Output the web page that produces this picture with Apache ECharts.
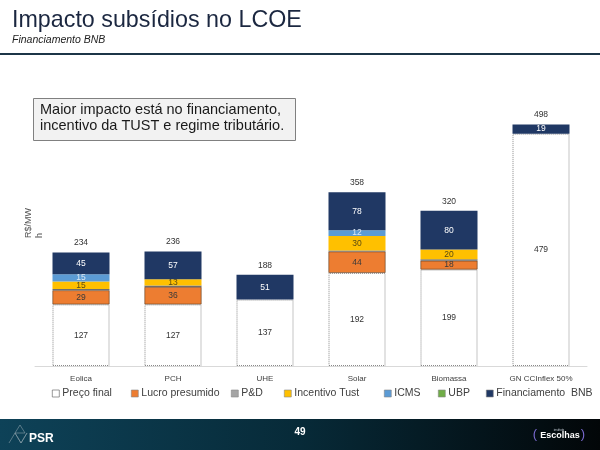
<!DOCTYPE html>
<html>
<head>
<meta charset="utf-8">
<script src="https://cdn.jsdelivr.net/npm/echarts@6/dist/echarts.min.js"></script>
<style>
html,body{margin:0;padding:0;background:#fff;}
#c{width:600px;height:450px;}
</style>
</head>
<body>
<div id="c"></div>
<script>
const categories = ['Eolica', 'PCH', 'UHE', 'Solar', 'Biomassa', 'GN CCInflex 50%'];
const precoFinal = [127, 127, 137, 192, 199, 479];
const lucroPresumido = [29, 36, 0, 44, 18, 0];
const pd = [3, 3, 0, 2, 3, 0];
const incentivoTust = [15, 13, 0, 30, 20, 0];
const icms = [15, 0, 0, 12, 0, 0];
const ubp = [0, 0, 0, 0, 0, 0];
const financiamento = [45, 57, 51, 78, 80, 19];
const totals = [234, 236, 188, 358, 320, 498];
const legendNames = ['Preço final', 'Lucro presumido', 'P&D', 'Incentivo Tust', 'ICMS', 'UBP', 'Financiamento  BNB'];

const chart = echarts.init(document.getElementById('c'));
const FONT = 'Liberation Sans, Arial, sans-serif';

function seg(name, data, color, labelColor, showLabel, extra) {
  return Object.assign({
    name: name,
    type: 'bar',
    stack: 'total',
    barWidth: 57,
    data: data.map(v => v === 0 ? null : v),
    itemStyle: { color: color },
    label: {
      show: showLabel,
      position: 'inside',
      fontSize: 8.5,
      fontFamily: FONT,
      color: labelColor
    },
    emphasis: { disabled: true }
  }, extra || {});
}

const series = [
  seg(legendNames[0], precoFinal, '#ffffff', '#333333', true, {
    itemStyle: { color: '#ffffff', borderColor: '#8a8a8a', borderWidth: 1, borderType: 'dotted' }
  }),
  seg(legendNames[1], lucroPresumido, '#ed7d31', '#3a3a3a', true, {
    itemStyle: { color: '#ed7d31', borderColor: '#5a3a20', borderWidth: 0.6 }
  }),
  seg(legendNames[2], pd, '#6e6e6e', '#333', false),
  seg(legendNames[3], incentivoTust, '#ffc000', '#5a4a10', true),
  seg(legendNames[4], icms, '#5b9bd5', '#dbe8f5', true),
  seg(legendNames[5], ubp, '#70ad47', '#fff', false),
  seg(legendNames[6], financiamento, '#203864', '#ffffff', true),
  {
    name: 'Total',
    type: 'bar',
    stack: 'total',
    barWidth: 57,
    data: totals.map(() => 0),
    itemStyle: { color: 'transparent' },
    label: {
      show: true,
      position: 'top',
      distance: 5,
      fontSize: 8.5,
      fontFamily: FONT,
      color: '#333333',
      formatter: p => totals[p.dataIndex]
    },
    emphasis: { disabled: true }
  }
];

const legendLeft = [52, 131, 231, 284, 384, 438, 486];
const legendIconColor = ['#ffffff', '#ed7d31', '#a5a5a5', '#ffc000', '#5b9bd5', '#70ad47', '#203864'];
const legends = legendNames.map((n, i) => ({
  data: [{ name: n, itemStyle: { color: legendIconColor[i], borderColor: i === 0 ? '#555' : '#888', borderWidth: 0.6 } }],
  left: legendLeft[i],
  top: 388,
  padding: 0,
  itemWidth: 7,
  itemHeight: 7,
  icon: 'rect',
  textStyle: { fontSize: 10.5, fontFamily: FONT, color: '#404040', padding: [0, 0, 0, -2] },
  selectedMode: false
}));

const option = {
  backgroundColor: '#ffffff',
  animation: false,
  grid: { left: 35, right: 13, top: 75, bottom: 84 },
  xAxis: {
    type: 'category',
    data: categories,
    axisLine: { lineStyle: { color: '#d9d9d9', width: 1 } },
    axisTick: { show: false },
    axisLabel: { fontSize: 8, fontFamily: FONT, color: '#404040', margin: 9 }
  },
  yAxis: {
    type: 'value',
    min: 0,
    max: 600,
    show: false
  },
  legend: legends,
  series: series,
  graphic: [
    { type: 'text', x: 12, y: 20.5, scaleX: 0.97, style: { text: 'Impacto subsídios no LCOE', font: '24px ' + FONT, fill: '#1b2740', verticalAlign: 'middle' } },
    { type: 'text', x: 12, y: 40.5, style: { text: 'Financiamento BNB', font: 'italic 10.5px ' + FONT, fill: '#222', verticalAlign: 'middle' } },
    { type: 'rect', shape: { x: 0, y: 53, width: 600, height: 2 }, style: { fill: '#1c3547' } },
    { type: 'rect', shape: { x: 33.5, y: 98.5, width: 262, height: 42 }, style: { fill: '#f2f2f2', stroke: '#808080', lineWidth: 1 } },
    { type: 'text', x: 40, y: 110, style: { text: 'Maior impacto está no financiamento,', font: '14.5px ' + FONT, fill: '#1a1a1a', verticalAlign: 'middle' } },
    { type: 'text', x: 40, y: 126, style: { text: 'incentivo da TUST e regime tributário.', font: '14.5px ' + FONT, fill: '#1a1a1a', verticalAlign: 'middle' } },
    { type: 'text', x: 34, y: 238, rotation: Math.PI / 2, style: { text: 'R$/MW\nh', font: '9px ' + FONT, fill: '#555', align: 'left', verticalAlign: 'middle', lineHeight: 11 } },
    { type: 'rect', shape: { x: 0, y: 419, width: 600, height: 31 },
      style: { fill: new echarts.graphic.LinearGradient(0, 0, 1, 0, [
        { offset: 0, color: '#0e4258' }, { offset: 0.5, color: '#072a38' }, { offset: 1, color: '#020608' }]) } },
    { type: 'polyline', shape: { points: [[9,443],[15,433],[21,443],[27,433],[21,443],[15,433],[20,425],[25,433],[15,433]] }, style: { stroke: '#8aa0aa', fill: null, lineWidth: 0.6 } },
    { type: 'text', left: 29, top: 433, style: { text: 'PSR', font: 'bold 12px ' + FONT, fill: '#ffffff' } },
    { type: 'text', x: 300, y: 432, style: { text: '49', font: 'bold 10px ' + FONT, fill: '#ffffff', align: 'center', verticalAlign: 'middle' } },
    { type: 'text', x: 535, y: 434, style: { text: '(', font: '13px ' + FONT, fill: '#7a6ad0', align: 'center', verticalAlign: 'middle' } },
    { type: 'text', x: 583, y: 434, style: { text: ')', font: '13px ' + FONT, fill: '#7a6ad0', align: 'center', verticalAlign: 'middle' } },
    { type: 'text', x: 559, y: 430, style: { text: 'instituto', font: '3px ' + FONT, fill: '#cfd6e0', align: 'center', verticalAlign: 'middle' } },
    { type: 'text', x: 560, y: 436, style: { text: 'Escolhas', font: 'bold 9px ' + FONT, fill: '#ffffff', align: 'center', verticalAlign: 'middle' } }
  ]
};
chart.setOption(option);
</script>
</body>
</html>
